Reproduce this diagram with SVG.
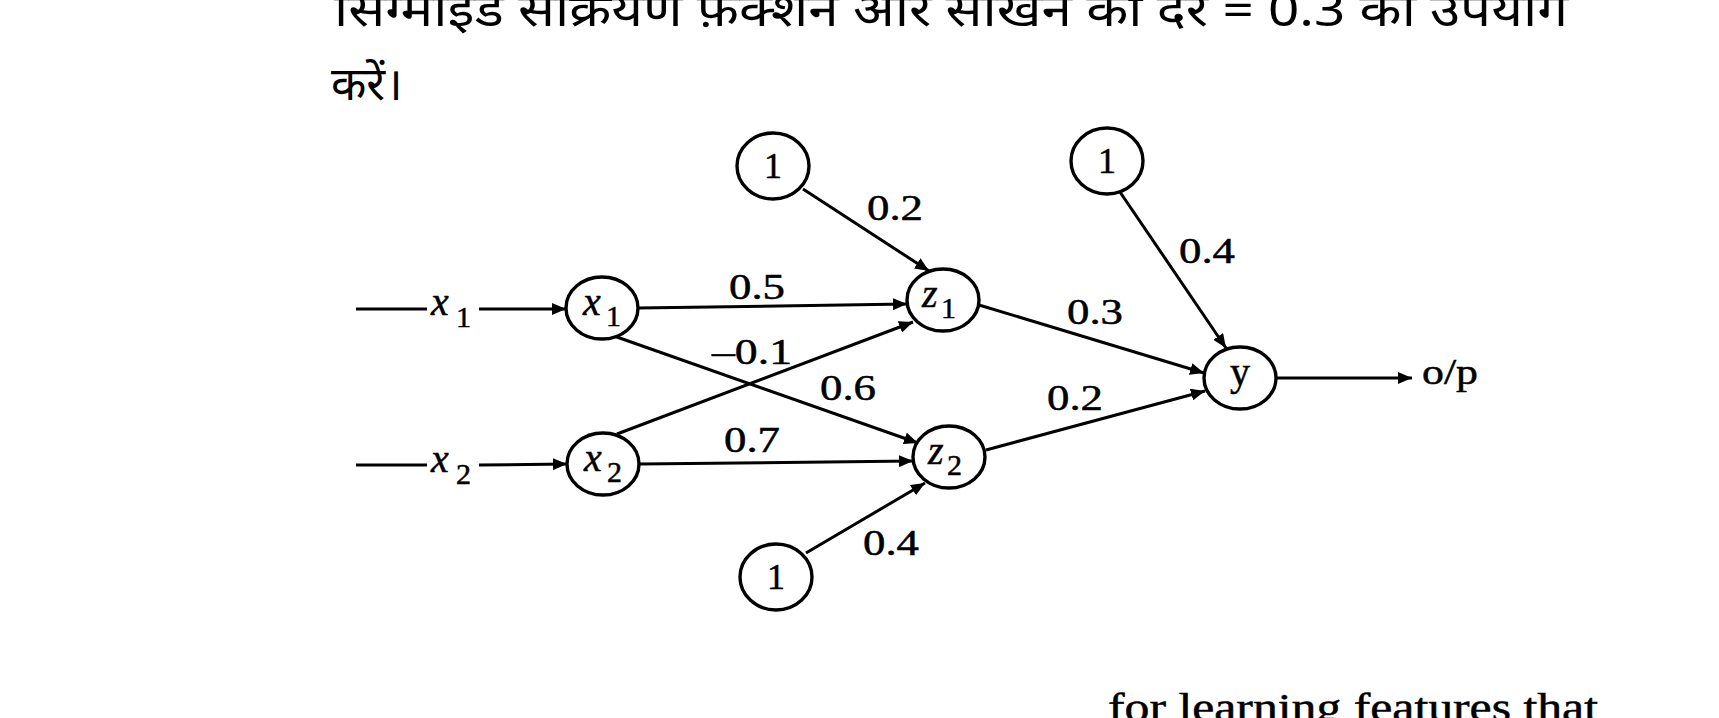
<svg xmlns="http://www.w3.org/2000/svg" width="1719" height="718" viewBox="0 0 1719 718">
<style>
.node ellipse{fill:#fff;stroke:#000;stroke-width:3.4}
.conn line{stroke:#000;stroke-width:3;fill:none}
.t{font-family:"Liberation Serif","DejaVu Serif",serif;fill:#000;stroke:#000;stroke-width:0.5}
.w{font-size:36px;text-anchor:middle}
.it{font-style:italic}
.hi{font-family:"Noto Sans","Noto Sans Devanagari","Lohit Devanagari","FreeSans",sans-serif;fill:#000}
</style>
<defs>
<marker id="ah" markerUnits="userSpaceOnUse" markerWidth="15" markerHeight="12" refX="14" refY="6" orient="auto">
<path d="M0,0 L14,6 L0,12 z" fill="#000"/>
</marker>
</defs>
<rect width="1719" height="718" fill="#fff"/>
<text class="hi" x="334" y="26" font-size="46" textLength="1234" lengthAdjust="spacingAndGlyphs">सिग्मॉइड सक्रियण फ़ंक्शन और सीखने की दर = 0.3 का उपयोग</text>
<text class="hi" x="331" y="100" font-size="46">करें।</text>
<text class="t" x="1108" y="721" font-size="40" textLength="490" lengthAdjust="spacingAndGlyphs">for learning features that</text>

<g id="connectors" class="conn">
<line x1="356" y1="309" x2="427" y2="309" stroke-width="3.6"/>
<line x1="479" y1="309" x2="566" y2="309" marker-end="url(#ah)"/>
<line x1="356" y1="465" x2="427" y2="465" stroke-width="3.6"/>
<line x1="479" y1="465" x2="567" y2="464" marker-end="url(#ah)"/>
<line x1="638" y1="308" x2="907" y2="304" marker-end="url(#ah)"/>
<line x1="614" y1="336" x2="918" y2="443" marker-end="url(#ah)"/>
<line x1="617" y1="434" x2="913" y2="322" marker-end="url(#ah)"/>
<line x1="639" y1="464" x2="913" y2="461" marker-end="url(#ah)"/>
<line x1="803" y1="189" x2="929" y2="271" marker-end="url(#ah)"/>
<line x1="806" y1="553" x2="925" y2="483" marker-end="url(#ah)"/>
<line x1="979" y1="305" x2="1204" y2="373" marker-end="url(#ah)"/>
<line x1="986" y1="450" x2="1205" y2="391" marker-end="url(#ah)"/>
<line x1="1120" y1="192" x2="1226" y2="348" marker-end="url(#ah)"/>
<line x1="1276" y1="378" x2="1412" y2="378" marker-end="url(#ah)"/>
</g>

<g id="input-x1-label" class="t"><text class="it" x="431" y="315" font-size="40">x</text><text x="456" y="327" font-size="30">1</text></g>
<g id="input-x2-label" class="t"><text class="it" x="431" y="472" font-size="40">x</text><text x="456" y="484" font-size="30">2</text></g>

<g id="node-b1" class="node"><ellipse cx="773" cy="166" rx="36" ry="33"/><text class="t" x="773" y="178" font-size="36" text-anchor="middle">1</text></g>
<g id="node-b2" class="node"><ellipse cx="1107" cy="161" rx="36" ry="33"/><text class="t" x="1107" y="173" font-size="36" text-anchor="middle">1</text></g>
<g id="node-b3" class="node"><ellipse cx="776" cy="577" rx="36" ry="33"/><text class="t" x="776" y="589" font-size="36" text-anchor="middle">1</text></g>
<g id="node-x1" class="node"><ellipse cx="602" cy="308" rx="36" ry="31"/><text class="t it" x="583" y="315" font-size="40">x</text><text class="t" x="606" y="326" font-size="30">1</text></g>
<g id="node-x2" class="node"><ellipse cx="603" cy="464" rx="36" ry="31"/><text class="t it" x="584" y="471" font-size="40">x</text><text class="t" x="607" y="482" font-size="30">2</text></g>
<g id="node-z1" class="node"><ellipse cx="943" cy="300" rx="36" ry="31"/><text class="t it" x="922" y="307" font-size="40">z</text><text class="t" x="941" y="318" font-size="30">1</text></g>
<g id="node-z2" class="node"><ellipse cx="949" cy="457" rx="36" ry="31"/><text class="t it" x="928" y="464" font-size="40">z</text><text class="t" x="947" y="475" font-size="30">2</text></g>
<g id="node-y" class="node"><ellipse cx="1240" cy="378" rx="36" ry="31"/><text class="t" x="1240" y="385" font-size="40" text-anchor="middle">y</text></g>

<g id="weights" class="t w">
<text x="895" y="220" textLength="56" lengthAdjust="spacingAndGlyphs">0.2</text>
<text x="757" y="299" textLength="56" lengthAdjust="spacingAndGlyphs">0.5</text>
<text x="752" y="364" textLength="80" lengthAdjust="spacingAndGlyphs">–0.1</text>
<text x="848" y="400" textLength="56" lengthAdjust="spacingAndGlyphs">0.6</text>
<text x="752" y="452" textLength="56" lengthAdjust="spacingAndGlyphs">0.7</text>
<text x="891" y="555" textLength="56" lengthAdjust="spacingAndGlyphs">0.4</text>
<text x="1095" y="324" textLength="56" lengthAdjust="spacingAndGlyphs">0.3</text>
<text x="1075" y="410" textLength="56" lengthAdjust="spacingAndGlyphs">0.2</text>
<text x="1207" y="263" textLength="56" lengthAdjust="spacingAndGlyphs">0.4</text>
</g>
<g id="output-label"><text class="t" x="1422" y="384" font-size="36" textLength="56" lengthAdjust="spacingAndGlyphs">o/p</text></g>
</svg>
